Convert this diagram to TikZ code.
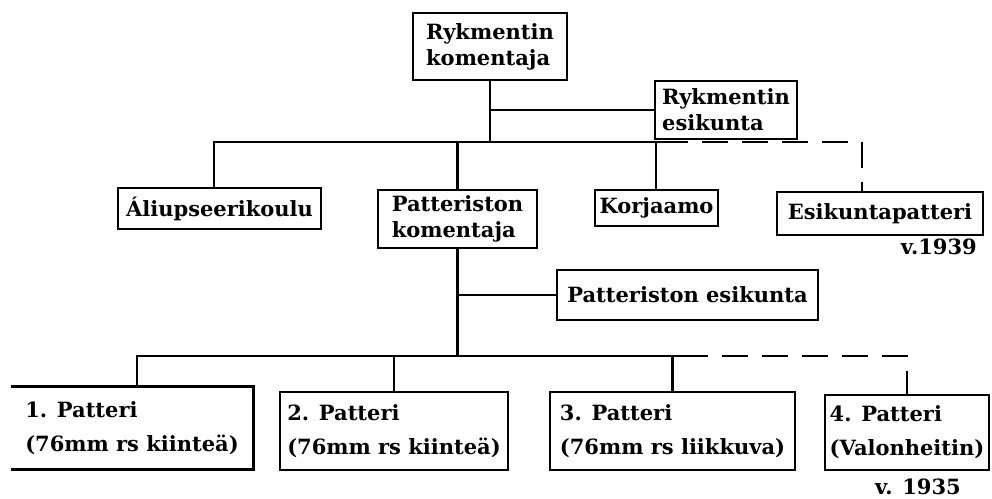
\documentclass[tikz,border=0pt]{standalone}
\usepackage{fontspec}
\setmainfont{DejaVu Serif}
\begin{document}
\begin{tikzpicture}[x=1pt,y=-1pt,
  txt/.style={font=\bfseries\fontsize{21}{26}\selectfont, inner sep=0pt},
  box/.style={txt, draw, line width=2.6pt, rectangle, align=left},
  conn/.style={line width=2.6pt},
  dconn/.style={conn, dash pattern=on 26pt off 14pt}]
\useasboundingbox (0,0) rectangle (992,498);
% upper level
\node[box, minimum width=154pt, minimum height=67pt] (rk) at (490,46.5) {Rykmentin\\komentaja};
\node[box, minimum width=142pt, minimum height=58pt] (re) at (726,110) {Rykmentin\\esikunta};
\node[box, minimum width=203pt, minimum height=41pt] (ali) at (219.5,208.5) {Áliupseerikoulu};
\node[box, minimum width=159pt, minimum height=58pt] (pk) at (457.5,219) {Patteriston\\komentaja};
\node[box, minimum width=123pt, minimum height=36pt] (kor) at (656.5,208) {Korjaamo};
\node[box, minimum width=206pt, minimum height=43pt] (esp) at (880,213.5) {Esikuntapatteri};
\node[txt, anchor=east] (v39) at (977,247) {v.1939};
% lower level
\node[box, minimum width=261pt, minimum height=50pt] (pe) at (687.5,295) {Patteriston esikunta};
\node[box, draw=none, minimum width=240pt, minimum height=80pt] (p1) at (132,428) {1. Patteri\\[8pt](76mm rs kiinteä)};
\draw[conn] (p1.north west) -- (p1.north east) -- (p1.south east) -- (p1.south west);
\node[box, minimum width=228pt, minimum height=78pt] (p2) at (394,431) {2. Patteri\\[8pt](76mm rs kiinteä)};
\node[box, minimum width=245pt, minimum height=78pt] (p3) at (672.5,431) {3. Patteri\\[8pt](76mm rs liikkuva)};
\node[box, minimum width=164pt, minimum height=75pt] (p4) at (907,432.5) {4. Patteri\\[8pt](Valonheitin)};
\node[txt] (v35) at (918,487) {v. 1935};
% connectors upper
\coordinate (h1L) at (214,142);
\coordinate (h1K) at (656,142);
\coordinate (h1s) at (662,142);
\coordinate (h1E) at (862,142);
\draw[conn] (rk.south) -- (rk.south |- h1L);
\draw[conn] (rk.south |- re.west) -- (re.west);
\draw[conn] (h1L |- ali.north) -- (h1L) -- (h1s);
\draw[conn] (pk.north |- h1L) -- (pk.north);
\draw[conn] (h1K) -- (h1K |- kor.north);
\draw[dconn] (h1s) -- (h1E) -- (h1E |- esp.north);
% connectors lower
\coordinate (h2L) at (137,356);
\coordinate (h2s) at (682,356);
\coordinate (h2E) at (907,356);
\draw[conn] (pk.south) -- (pk.south |- h2L);
\draw[conn] (pk.south |- pe.west) -- (pe.west);
\draw[conn] (h2L |- p1.north) -- (h2L) -- (h2s);
\draw[conn] (p2.north |- h2L) -- (p2.north);
\draw[conn] (p3.north |- h2L) -- (p3.north);
\draw[dconn] (h2s) -- (h2E) -- (h2E |- p4.north);
\end{tikzpicture}
\end{document}
